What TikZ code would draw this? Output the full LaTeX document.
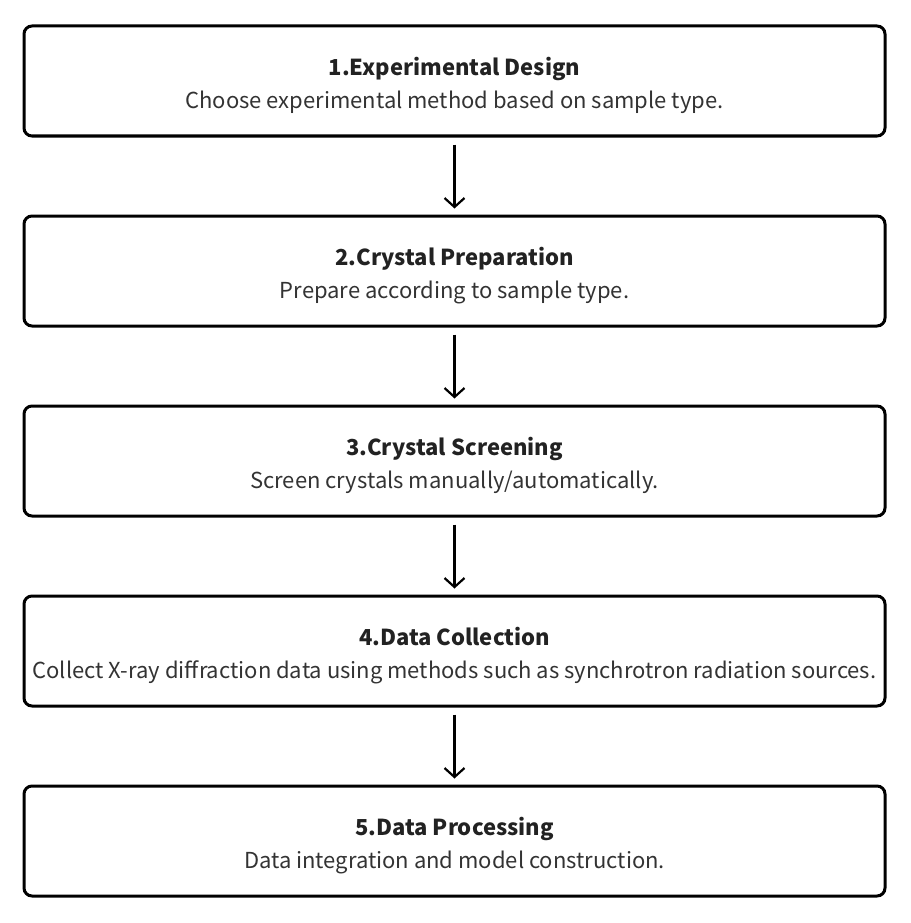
\documentclass[tikz,border=0pt]{standalone}
\usepackage{fontspec}
\setmainfont{Noto Sans CJK SC}
\usetikzlibrary{arrows.meta}
\definecolor{txt}{HTML}{333333}
\definecolor{ttl}{HTML}{222222}
\newcommand{\steptext}[2]{\rule{0pt}{27pt}{\bfseries\color{ttl}#1}\\#2}
\tikzset{
  stepbox/.style={draw=black, line width=3pt, rounded corners=8pt, minimum width=861pt, minimum height=110pt, inner sep=0pt, text=txt, align=center, font=\fontsize{22pt}{33pt}\selectfont},
  flow/.style={draw=black, line width=2.2pt, -{Straight Barb[length=9pt,width=20pt,line width=2.2pt]}}
}
\begin{document}
\begin{tikzpicture}[x=1pt,y=-1pt]
\useasboundingbox (0,0) rectangle (910,923);
\node[stepbox] (s1) at (454.5,81) {\steptext{1.Experimental Design}{Choose experimental method based on sample type.}};
\node[stepbox] (s2) at (454.5,271) {\steptext{2.Crystal Preparation}{Prepare according to sample type.}};
\node[stepbox] (s3) at (454.5,461) {\steptext{3.Crystal Screening}{Screen crystals manually/automatically.}};
\node[stepbox] (s4) at (454.5,651) {\steptext{4.Data Collection}{Collect X-ray diffraction data using methods such as synchrotron radiation sources.}};
\node[stepbox] (s5) at (454.5,841) {\steptext{5.Data Processing}{Data integration and model construction.}};
\draw[flow] ([yshift=-7pt]s1.south) -- ([yshift=6pt]s2.north);
\draw[flow] ([yshift=-7pt]s2.south) -- ([yshift=6pt]s3.north);
\draw[flow] ([yshift=-7pt]s3.south) -- ([yshift=6pt]s4.north);
\draw[flow] ([yshift=-7pt]s4.south) -- ([yshift=6pt]s5.north);
\end{tikzpicture}
\end{document}
